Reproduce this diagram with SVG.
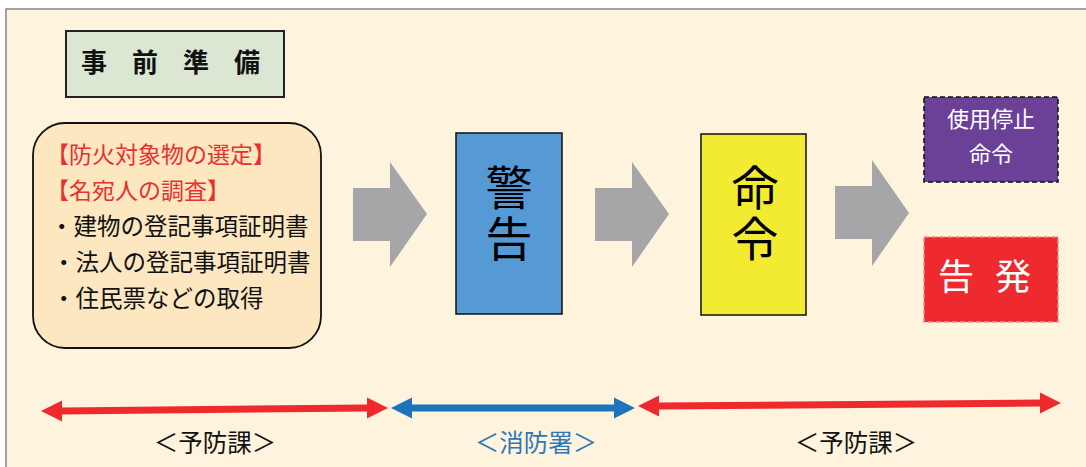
<svg xmlns="http://www.w3.org/2000/svg" width="1086" height="467" viewBox="0 0 1086 467">
<style>
text{font-family:"Noto Sans CJK JP","Noto Sans CJK SC",sans-serif}
.blk{fill:#111}
.red{fill:#e8302f}
.gray{fill:#a6a5a8}
.big{font-size:47px;fill:#000;writing-mode:vertical-rl;letter-spacing:4px}
.wt{fill:#fff;text-anchor:middle}
.lbl{font-size:24.5px;text-anchor:middle}
</style>
<rect x="0" y="0" width="1086" height="467" fill="#ffffff"/>
<rect x="6" y="9" width="1090" height="470" fill="#fef3dc" stroke="#858585" stroke-width="1.5"/>

<g id="node-jizen">
<rect x="66" y="31" width="218" height="66" fill="#dbe6d3" stroke="#222" stroke-width="2"/>
<text x="81" y="72" font-size="26" font-weight="bold" letter-spacing="25" class="blk">事前準備</text>
</g>

<g id="node-prep">
<rect x="33" y="123" width="288" height="225" rx="32" ry="32" fill="#fde7c1" stroke="#111" stroke-width="1.8"/>
<text x="46" y="163" font-size="23" class="red">【防火対象物の選定】</text>
<text x="46" y="199" font-size="23" class="red">【名宛人の調査】</text>
<text x="50" y="235" font-size="23.5" class="blk">・建物の登記事項証明書</text>
<text x="52" y="271" font-size="23.5" class="blk">・法人の登記事項証明書</text>
<text x="52" y="307" font-size="23.5" class="blk">・住民票などの取得</text>
</g>

<g id="node-keikoku">
<rect x="456" y="133" width="106" height="181" fill="#559ad4" stroke="#111" stroke-width="1.5"/>
<text x="509" y="164" class="big">警告</text>
</g>

<g id="node-meirei">
<rect x="701" y="134" width="105" height="181" fill="#f2eb32" stroke="#111" stroke-width="1.5"/>
<text x="755" y="164" class="big">命令</text>
</g>

<g id="node-shiyou">
<rect x="924" y="97" width="134" height="85" fill="#6b4198" stroke="#111" stroke-width="1.5" stroke-dasharray="5,3"/>
<text x="991" y="127" font-size="22" class="wt">使用停止</text>
<text x="991" y="162" font-size="22" class="wt">命令</text>
</g>

<g id="node-kokuhatsu">
<rect x="924" y="237" width="134" height="85" fill="#ee2a2e" stroke="#f28a8a" stroke-width="1.5" stroke-dasharray="5,3"/>
<text x="938" y="290" font-size="36" fill="#fff" letter-spacing="21">告発</text>
</g>

<g id="connectors">
<polygon class="gray" points="353,188 390,188 390,162 427,214 390,267 390,241 353,241"/>
<polygon class="gray" points="595,188 632,188 632,162 669,214 632,267 632,241 595,241"/>
<polygon class="gray" points="835,186 872,186 872,160 909,213 872,266 872,239 835,239"/>

<g fill="#ee2a2e">
<polygon points="41,411 62,400.5 62,407.5 367,404.5 367,397.5 388,408 367,418.5 367,411.5 62,414.5 62,421.5"/>
<polygon points="638,406 659,395.5 659,402.5 1040,399.5 1040,392.5 1061,403 1040,413.5 1040,406.5 659,409.5 659,416.5"/>
</g>
<polygon fill="#1f73bb" points="391,408 412,397.5 412,404.5 614,404.5 614,397.5 635,408 614,418.5 614,411.5 412,411.5 412,418.5"/>
</g>

<g id="labels">
<text x="215" y="452" class="lbl" fill="#111">＜予防課＞</text>
<text x="536" y="452" class="lbl" fill="#2e78b8">＜消防署＞</text>
<text x="856" y="452" class="lbl" fill="#111">＜予防課＞</text>
</g>
</svg>
